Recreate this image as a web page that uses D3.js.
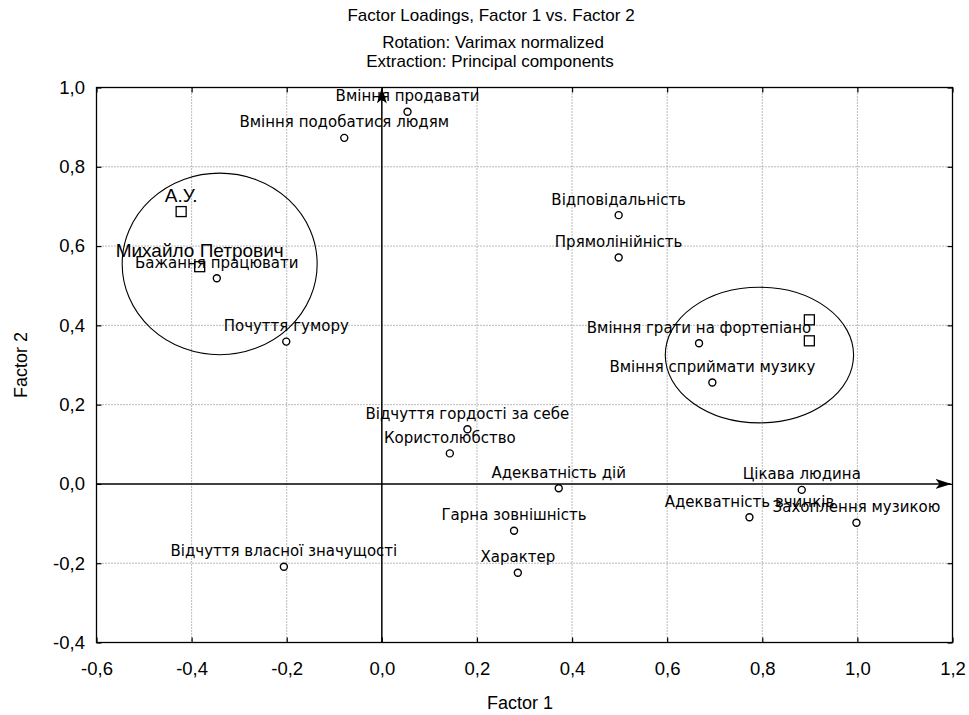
<!DOCTYPE html>
<html>
<head>
<meta charset="utf-8">
<script src="https://cdn.jsdelivr.net/npm/d3@7"></script>
<style>
  body { margin: 0; background: #fff; }
  text { fill: #000; }
</style>
</head>
<body>
<svg id="chart" width="969" height="715"></svg>
<script>
// loadings of the items
const itemNames = ["Вміння продавати", "Вміння подобатися людям", "Бажання працювати", "Почуття гумору",
    "Відповідальність", "Прямолінійність", "Вміння грати на фортепіано", "Вміння сприймати музику",
    "Відчуття гордості за себе", "Користолюбство", "Адекватність дій", "Цікава людина",
    "Адекватність вчинків", "Захоплення музикою", "Гарна зовнішність", "Характер",
    "Відчуття власної значущості"]
const itemF1 = [0.054, -0.079, -0.347, -0.201, 0.498, 0.498, 0.667, 0.695, 0.180, 0.143, 0.372, 0.883, 0.773, 0.998, 0.278, 0.286, -0.206]
const itemF2 = [0.939, 0.873, 0.519, 0.359, 0.678, 0.571, 0.355, 0.256, 0.138, 0.077, -0.011, -0.015, -0.084, -0.098, -0.118, -0.224, -0.209]

// persons (squares)
const personNames = ["А.У.", "Михайло Петрович", "", ""]
const personF1 = [-0.422, -0.383, 0.899, 0.899]
const personF2 = [0.687, 0.548, 0.414, 0.361]

// hand drawn ellipses
const ringCx = [-0.341, 0.794]
const ringCy = [0.555, 0.325]
const ringRx = [0.205, 0.198]
const ringRy = [0.229, 0.171]

const xTicks = [-0.6, -0.4, -0.2, 0.0, 0.2, 0.4, 0.6, 0.8, 1.0, 1.2]
const yTicks = [-0.4, -0.2, 0.0, 0.2, 0.4, 0.6, 0.8, 1.0]

let svg = d3.select("#chart")

let plotVars = ({
    left: 96.5,
    right: 952.5,
    top: 87.5,
    bottom: 642.5
})

let xScale = d3.scaleLinear().domain([-0.6, 1.2]).range([plotVars.left, plotVars.right])
let yScale = d3.scaleLinear().domain([-0.4, 1.0]).range([plotVars.bottom, plotVars.top])

let locale = d3.formatLocale({ decimal: ",", thousands: " ", grouping: [3], currency: ["", ""], minus: "-" })
let fmt = locale.format(".1f")

// titles
svg.append("text").attr("x", 491).attr("y", 21).attr("text-anchor", "middle")
    .style("font-family", "Liberation Sans, Arial, sans-serif").style("font-size", "17px")
    .text("Factor Loadings, Factor 1 vs. Factor 2")
svg.append("text").attr("x", 493).attr("y", 48).attr("text-anchor", "middle")
    .style("font-family", "Liberation Sans, Arial, sans-serif").style("font-size", "17px")
    .text("Rotation: Varimax normalized")
svg.append("text").attr("x", 490).attr("y", 67).attr("text-anchor", "middle")
    .style("font-family", "Liberation Sans, Arial, sans-serif").style("font-size", "17px")
    .text("Extraction: Principal components")

// gridlines
let grid = svg.append("g").attr("stroke", "#777").attr("stroke-width", 1).attr("stroke-dasharray", "1,2")
grid.selectAll("line.vg")
    .data(xTicks.filter(d => d > -0.6 && d < 1.2 && d !== 0))
    .enter().append("line")
    .attr("x1", d => xScale(d)).attr("x2", d => xScale(d))
    .attr("y1", plotVars.top).attr("y2", plotVars.bottom)
grid.selectAll("line.hg")
    .data(yTicks.filter(d => d > -0.4 && d < 1.0 && d !== 0))
    .enter().append("line")
    .attr("x1", plotVars.left).attr("x2", plotVars.right)
    .attr("y1", d => yScale(d)).attr("y2", d => yScale(d))

// axes with inward ticks
function styleAxis(g) {
    g.select(".domain").remove()
    g.selectAll("line").attr("stroke", "#000").attr("stroke-width", 1.2)
    g.selectAll("text").style("font-family", "Liberation Sans, Arial, sans-serif").style("font-size", "18.5px")
}

svg.append("g").attr("transform", `translate(${plotVars.left},0)`)
    .call(d3.axisLeft(yScale).tickValues(yTicks).tickFormat(fmt).tickSize(-5).tickPadding(11.5))
    .call(styleAxis)
svg.append("g").attr("transform", `translate(0,${plotVars.bottom})`)
    .call(d3.axisBottom(xScale).tickValues(xTicks).tickFormat(fmt).tickSize(-5).tickPadding(19))
    .call(styleAxis)
svg.append("g").attr("transform", `translate(${plotVars.right},0)`)
    .call(d3.axisRight(yScale).tickValues(yTicks).tickFormat("").tickSize(-5))
    .call(styleAxis)
svg.append("g").attr("transform", `translate(0,${plotVars.top})`)
    .call(d3.axisTop(xScale).tickValues(xTicks).tickFormat("").tickSize(-5))
    .call(styleAxis)

// frame
svg.append("rect")
    .attr("x", plotVars.left).attr("y", plotVars.top)
    .attr("width", plotVars.right - plotVars.left).attr("height", plotVars.bottom - plotVars.top)
    .attr("fill", "none").attr("stroke", "#000").attr("stroke-width", 1.3)

// axis labels
svg.append("text").attr("x", 520).attr("y", 709).attr("text-anchor", "middle")
    .style("font-family", "Liberation Sans, Arial, sans-serif").style("font-size", "18px")
    .text("Factor 1")
svg.append("text").attr("transform", "translate(27,365) rotate(-90)").attr("text-anchor", "middle")
    .style("font-family", "Liberation Sans, Arial, sans-serif").style("font-size", "18px")
    .text("Factor 2")

// arrowheads
let defs = svg.append("defs")
defs.append("marker")
    .attr("id", "arrow").attr("viewBox", "0 0 16 10")
    .attr("refX", 15).attr("refY", 5)
    .attr("markerWidth", 16).attr("markerHeight", 10)
    .attr("markerUnits", "userSpaceOnUse")
    .attr("orient", "auto")
    .append("path").attr("d", "M0,0 L16,5 L0,10 L4,5 Z").attr("fill", "#000")

// origin axes
svg.append("line")
    .attr("x1", xScale(0)).attr("x2", xScale(0))
    .attr("y1", yScale(-0.4)).attr("y2", yScale(1.0) + 1)
    .attr("stroke", "#000").attr("stroke-width", 1.5)
    .attr("marker-end", "url(#arrow)")
svg.append("line")
    .attr("x1", xScale(-0.6)).attr("x2", xScale(1.2) - 2)
    .attr("y1", yScale(0)).attr("y2", yScale(0))
    .attr("stroke", "#000").attr("stroke-width", 1.5)
    .attr("marker-end", "url(#arrow)")

// ellipses
svg.selectAll("ellipse.ring")
    .data(ringCx.map((d, i) => i))
    .enter().append("ellipse")
    .attr("cx", i => xScale(ringCx[i]))
    .attr("cy", i => yScale(ringCy[i]))
    .attr("rx", i => xScale(ringRx[i]) - xScale(0))
    .attr("ry", i => yScale(0) - yScale(ringRy[i]))
    .attr("fill", "none").attr("stroke", "#000").attr("stroke-width", 1.1)

// item points
let items = itemNames.map((d, i) => ({ name: d, f1: itemF1[i], f2: itemF2[i] }))
svg.selectAll("circle.item")
    .data(items)
    .enter().append("circle")
    .attr("cx", d => xScale(d.f1))
    .attr("cy", d => yScale(d.f2))
    .attr("r", 3.5)
    .attr("fill", "#fff").attr("stroke", "#000").attr("stroke-width", 1.4)

// person points
let persons = personNames.map((d, i) => ({ name: d, f1: personF1[i], f2: personF2[i] }))
svg.selectAll("rect.person")
    .data(persons)
    .enter().append("rect")
    .attr("x", d => xScale(d.f1) - 5)
    .attr("y", d => yScale(d.f2) - 5)
    .attr("width", 10).attr("height", 10)
    .attr("fill", "none").attr("stroke", "#000").attr("stroke-width", 1.3)

// labels
svg.selectAll("text.item")
    .data(items)
    .enter().append("text")
    .attr("x", d => xScale(d.f1))
    .attr("y", d => yScale(d.f2) - 10.5)
    .attr("text-anchor", "middle")
    .style("font-family", "DejaVu Sans, sans-serif").style("font-size", "15px")
    .text(d => d.name)

svg.selectAll("text.person")
    .data(persons)
    .enter().append("text")
    .attr("x", d => xScale(d.f1))
    .attr("y", d => yScale(d.f2) - 10)
    .attr("text-anchor", "middle")
    .style("font-family", "Liberation Sans, Arial, sans-serif").style("font-size", "19px")
    .text(d => d.name)
</script>
</body>
</html>
